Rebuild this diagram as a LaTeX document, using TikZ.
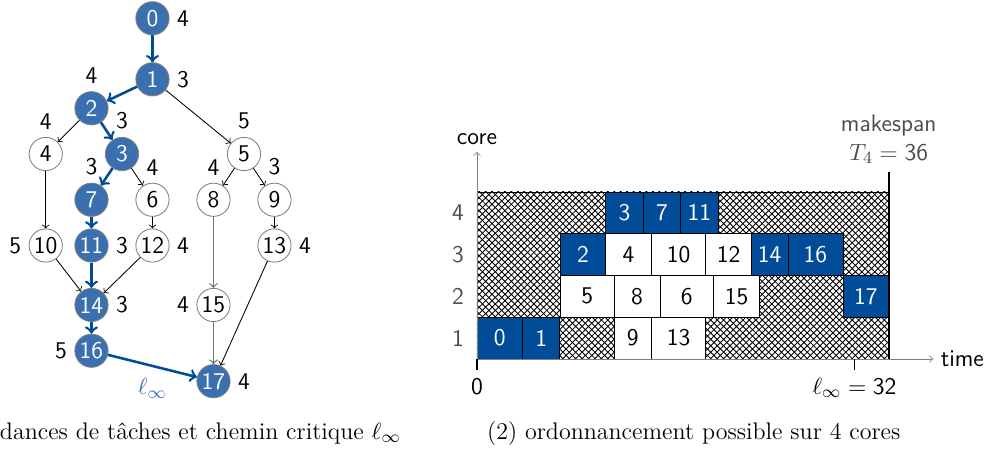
\documentclass[tikz,border=0pt]{standalone}
\usepackage{amsmath, amssymb}
\usepackage{tikz}
\usetikzlibrary{patterns}
\definecolor{nodeblue}{RGB}{58,112,176}
\definecolor{pathblue}{RGB}{0,76,153}
\newcommand{\figsize}{\fontsize{11.2}{13.4}\selectfont}

\begin{document}
\begin{tikzpicture}[x=0.5cm, y=0.5cm,
  every node/.style={font=\sffamily\figsize},
  task/.style={circle, draw=gray, fill=white, minimum size=15.5pt, inner sep=0pt, label distance=0pt},
  crit/.style={task, fill=nodeblue, text=white},
  dep/.style={->, black},
  critdep/.style={->, very thick, pathblue},
  slot/.style={draw=black, fill=white},
  critslot/.style={draw=black, fill=pathblue, text=white}]
\useasboundingbox (0,0) rectangle (32.43,-14.82);

% graphe de dependances
\node[crit] (n0) at (5,-0.6) [label=right:4] {0};
\node[crit] (n1) at (5,-2.6) [label=right:3] {1};
\node[crit] (n2) at (3,-3.55) [label=above:4] {2};
\node[crit] (n3) at (4,-5.05) [label=above:3] {3};
\node[task] (n4) at (1.5,-5.05) [label=above:4] {4};
\node[task] (n5) at (8,-5.05) [label=above:5] {5};
\node[crit] (n7) at (3,-6.55) [label=above:3] {7};
\node[task] (n6) at (5,-6.55) [label=above:4] {6};
\node[task] (n8) at (7,-6.55) [label=above:4] {8};
\node[task] (n9) at (9,-6.55) [label=above:3] {9};
\node[task] (n10) at (1.5,-8.05) [label=left:5] {10};
\node[crit] (n11) at (3,-8.05) [label=right:3] {11};
\node[task] (n12) at (5,-8.05) [label=right:4] {12};
\node[task] (n13) at (9,-8.05) [label=right:4] {13};
\node[crit] (n14) at (3,-10) [label=right:3] {14};
\node[task] (n15) at (7,-10) [label=left:4] {15};
\node[crit] (n16) at (3,-11.5) [label=left:5] {16};
\node[crit] (n17) at (7,-12.5) [label=right:4] {17};

\draw[dep] (n1)--(n5);
\draw[dep] (n2)--(n4);
\draw[dep] (n3)--(n6);
\draw[dep] (n5)--(n8);
\draw[dep] (n5)--(n9);
\draw[dep] (n4)--(n10);
\draw[dep] (n6)--(n12);
\draw[dep] (n10)--(n14);
\draw[dep] (n12)--(n14);
\draw[dep] (n9)--(n13);
\draw[dep] (n13)--(n17);
\draw[dep, black!55, semithick] (n8)--(n15);
\draw[dep, black!55, semithick] (n15)--(n17);
% chemin critique
\draw[critdep] (n0)--(n1);
\draw[critdep] (n1)--(n2);
\draw[critdep] (n2)--(n3);
\draw[critdep] (n3)--(n7);
\draw[critdep] (n7)--(n11);
\draw[critdep] (n11)--(n14);
\draw[critdep] (n14)--(n16);
\draw[critdep] (n16)-- node[below=2pt, text=nodeblue] (linf) {$\ell_\infty$} (n17);

% ordonnancement
\begin{scope}[xshift=7.82cm, yshift=-5.885cm, x=0.1875cm, y=0.6844cm]
\draw[pattern=crosshatch] (0,0) rectangle (36,4);
\foreach \a/\b/\r/\t in {0/4/0/0, 4/7.25/0/1, 7.3/11.25/2/2, 11.25/14.55/3/3,
    14.55/17.8/3/7, 17.8/21.1/3/11, 24/27.2/2/14, 27.2/32/2/16, 32/36/1/17}
  \draw[critslot] (\a,\r) rectangle (\b,\r+1) node[midway] (s\t) {\t};
\foreach \a/\b/\r/\t in {12/15.25/0/9, 15.25/20/0/13, 7.3/12/1/5, 12/16/1/8,
    16/20.7/1/6, 20.7/24.7/1/15, 11.25/15.25/2/4, 15.25/20/2/10, 20/24/2/12}
  \draw[slot] (\a,\r) rectangle (\b,\r+1) node[midway] (s\t) {\t};
\foreach \i in {1,...,4}
  \node[black!70] (c\i) at (-1.66,\i-0.5) {\i};
\coordinate (o) at (0,0);
\coordinate (ytop) at (0,4.96);
\coordinate (xend) at (39.9,0);
\draw[->, gray] (o)--(ytop) node[above, black] (core) {core};
\draw[->, gray] (o)--(xend) node[right, black] (time) {time};
\draw[thick] (o)--(0,-0.26) node[below] (zero) {0};
\draw[thick] (33,0)--(33,-0.26) node[below] (lmax) {$\ell_\infty = \mbox{32}$};
\draw[thick] (36,0)--(36,4.48) node[above, align=center, black!70] (mk) {makespan\\$T_4 = \mbox{36}$};
\end{scope}

% legendes
\node[font=\rmfamily\figsize, anchor=west] (capA) at (-0.25,-14.2) {dances de t\^aches et chemin critique $\ell_\infty$};
\node[font=\rmfamily\figsize] (capB) at (22.75,-14.2) {(2) ordonnancement possible sur 4 cores};
\end{tikzpicture}
\end{document}
